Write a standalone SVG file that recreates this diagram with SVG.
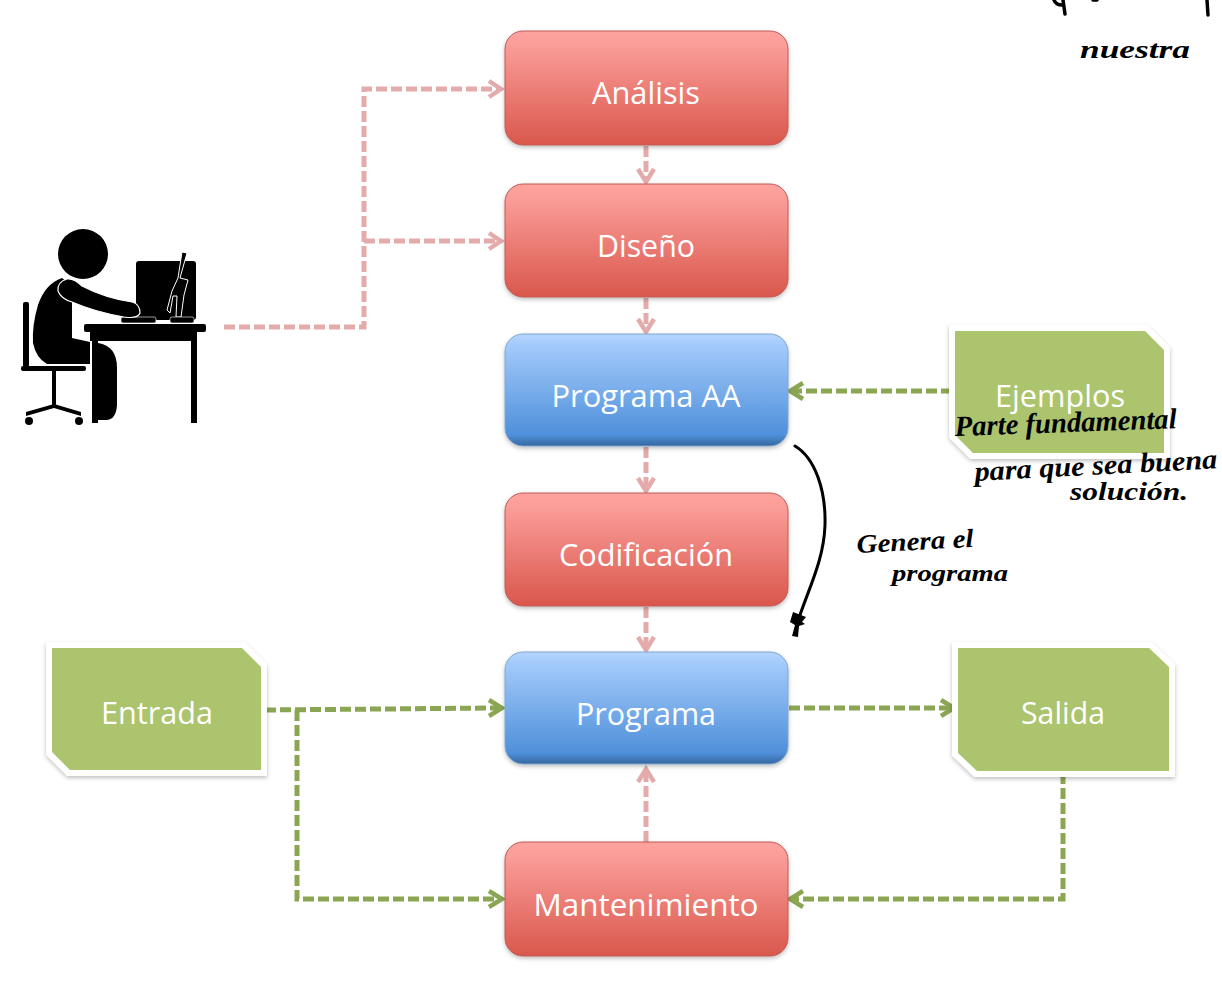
<svg xmlns="http://www.w3.org/2000/svg" width="1222" height="983" viewBox="0 0 1222 983">
<style>
.lbl{font-family:"Open Sans","Noto Sans",sans-serif;font-size:31px;fill:#fff;text-anchor:middle}
.hand{font-family:"Liberation Serif",serif;font-style:italic;font-weight:bold;fill:#000}
.red{fill:url(#gr);stroke:#bf5a55;stroke-width:1}
.blue{fill:url(#gb);stroke:#7fa6cf;stroke-width:1}
.green{fill:#abc46d;stroke:#fff;stroke-width:12;stroke-linejoin:miter;paint-order:stroke;filter:url(#sh)}
.pk{fill:none;stroke:#e3abab;stroke-width:5;stroke-dasharray:11 4}
.gn{fill:none;stroke:#8ba653;stroke-width:5;stroke-dasharray:11 4}
.hp{fill:none;stroke:#e3abab;stroke-width:4.5}
.hg{fill:none;stroke:#8ba653;stroke-width:4.5}
</style>
<defs>
<linearGradient id="gr" x1="0" y1="0" x2="0" y2="1"><stop offset="0" stop-color="#ffa3a0"/><stop offset="0.12" stop-color="#fb9d99"/><stop offset="1" stop-color="#d9574c"/></linearGradient>
<linearGradient id="gb" x1="0" y1="0" x2="0" y2="1"><stop offset="0" stop-color="#b5d6ff"/><stop offset="0.1" stop-color="#a3cafb"/><stop offset="0.9" stop-color="#4f90da"/><stop offset="1" stop-color="#35679f"/></linearGradient>
<filter id="sh" x="-10%" y="-10%" width="120%" height="125%"><feDropShadow dx="0" dy="2" stdDeviation="2" flood-color="#000" flood-opacity="0.25"/></filter>
<filter id="soft" x="-5%" y="-5%" width="110%" height="110%"><feGaussianBlur stdDeviation="0.5"/></filter>
</defs>
<rect width="1222" height="983" fill="#fff"/>

<g id="user" fill="#000">
<circle cx="83" cy="254" r="25"/>
<rect x="136" y="261" width="60" height="59" rx="3"/>
<path d="M182 252L187 253L180 278L188 280L184 295L181 317H176L177 296H173L170 313L167 310L172 291L178 278Z" stroke="#fff" stroke-width="1"/>
<rect x="121" y="317" width="35" height="6" rx="2" stroke="#fff" stroke-width="0.6"/>
<rect x="170" y="317" width="24" height="6" rx="2" stroke="#fff" stroke-width="0.6"/>
<path d="M62 278Q45 284 38 305Q32 325 33 343Q36 358 47 364H90V342L72 338V300Q76 288 62 278Z"/>
<path d="M67 279Q57 282 58 291Q61 299 72 302Q95 312 124 317Q138 319 140 313Q140 304 132 302Q105 298 82 286Q74 278 67 279Z" stroke="#fff" stroke-width="1.2"/>
<path d="M98 343Q117 346 117 368V405Q116 420 106 420H98Z"/>
<rect x="84" y="324" width="122" height="8" rx="2"/>
<rect x="90" y="330" width="107" height="11"/>
<rect x="92" y="335" width="6" height="88"/>
<rect x="191" y="335" width="6" height="88"/>
<rect x="23" y="302" width="6" height="65" rx="2"/>
<rect x="21" y="366" width="65" height="5" rx="2"/>
<rect x="52" y="370" width="4" height="37"/>
<path d="M26 412L54 404L81 412V416L54 408L26 416Z"/>
<circle cx="29" cy="421" r="4"/><circle cx="79" cy="421" r="4"/>
</g>

<g id="connectors" filter="url(#soft)">
<path class="pk" d="M224 327H364V89H498"/><path class="hp" d="M489 81L501 89L489 97"/>
<path class="pk" d="M364 241H498"/><path class="hp" d="M489 233L501 241L489 249"/>
<path class="pk" d="M646 146V180"/><path class="hp" d="M638 169L646 182L654 169"/>
<path class="pk" d="M646 298V330"/><path class="hp" d="M638 319L646 332L654 319"/>
<path class="pk" d="M646 447V489"/><path class="hp" d="M638 478L646 491L654 478"/>
<path class="pk" d="M646 607V648"/><path class="hp" d="M638 637L646 650L654 637"/>
<path class="pk" d="M646 842V770"/><path class="hp" d="M638 782L646 769L654 782"/>
<path class="gn" d="M952 391L792 391"/><path class="hg" d="M803 383L790 391L803 399"/>
<path class="gn" d="M265 710L498 708"/><path class="hg" d="M489 700L502 708L489 716"/>
<path class="gn" d="M297 710V899H498"/><path class="hg" d="M489 891L502 899L489 907"/>
<path class="gn" d="M789 708H950"/><path class="hg" d="M941 700L954 708L941 716"/>
<path class="gn" d="M1063 773V899H792"/><path class="hg" d="M803 891L790 899L803 907"/>
</g>

<g id="analisis"><rect class="red" x="505" y="31" width="283" height="114" rx="18" filter="url(#sh)"/><text class="lbl" x="646" y="104" textLength="108" lengthAdjust="spacingAndGlyphs">Análisis</text></g>
<g id="diseno"><rect class="red" x="505" y="184" width="283" height="113" rx="18" filter="url(#sh)"/><text class="lbl" x="646" y="257" textLength="98" lengthAdjust="spacingAndGlyphs">Diseño</text></g>
<g id="programa-aa"><rect class="blue" x="505" y="334" width="283" height="112" rx="18" filter="url(#sh)"/><text class="lbl" x="646" y="407" textLength="189" lengthAdjust="spacingAndGlyphs">Programa AA</text></g>
<g id="codificacion"><rect class="red" x="505" y="493" width="283" height="113" rx="18" filter="url(#sh)"/><text class="lbl" x="646" y="566" textLength="174" lengthAdjust="spacingAndGlyphs">Codificación</text></g>
<g id="programa"><rect class="blue" x="505" y="652" width="283" height="112" rx="18" filter="url(#sh)"/><text class="lbl" x="646" y="725" textLength="140" lengthAdjust="spacingAndGlyphs">Programa</text></g>
<g id="mantenimiento"><rect class="red" x="505" y="842" width="283" height="114" rx="18" filter="url(#sh)"/><text class="lbl" x="646" y="916" textLength="225" lengthAdjust="spacingAndGlyphs">Mantenimiento</text></g>

<g id="ejemplos"><path class="green" d="M955 331H1145L1164 350V453H973L955 435Z"/><text class="lbl" x="1060" y="407" textLength="130" lengthAdjust="spacingAndGlyphs">Ejemplos</text></g>
<g id="entrada"><path class="green" d="M52 648H242L261 667V770H70L52 752Z"/><text class="lbl" x="157" y="724" textLength="112" lengthAdjust="spacingAndGlyphs">Entrada</text></g>
<g id="salida"><path class="green" d="M958 648H1149L1169 667V771H977L958 753Z"/><text class="lbl" x="1063" y="724" textLength="84" lengthAdjust="spacingAndGlyphs">Salida</text></g>

<g id="annotations">
<path d="M795 446C815 458 826 490 825 525C824 560 808 590 799 618" fill="none" stroke="#000" stroke-width="3" stroke-linecap="round"/>
<path d="M793 612L806 617L802 622L805 624L799 626L798 637L792 636L795 625L790 622Z" fill="#000"/>
<path d="M1054 0Q1056 5 1062 5M1063 0L1065 14M1093 0H1097M1207 0L1208 15" fill="none" stroke="#000" stroke-width="3.5" stroke-linecap="round"/>
<text class="hand" x="955" y="436" font-size="29" textLength="222" lengthAdjust="spacingAndGlyphs" transform="rotate(-2 955 436)">Parte fundamental</text>
<text class="hand" x="975" y="481" font-size="28" textLength="243" lengthAdjust="spacingAndGlyphs" transform="rotate(-3 975 481)">para que sea buena</text>
<text class="hand" x="1070" y="500" font-size="25" textLength="118" lengthAdjust="spacingAndGlyphs">solución.</text>
<text class="hand" x="857" y="553" font-size="26" textLength="117" lengthAdjust="spacingAndGlyphs" transform="rotate(-3 857 553)">Genera el</text>
<text class="hand" x="892" y="581" font-size="24" textLength="116" lengthAdjust="spacingAndGlyphs">programa</text>
<text class="hand" x="1080" y="58" font-size="26" textLength="110" lengthAdjust="spacingAndGlyphs">nuestra</text>
</g>
</svg>
